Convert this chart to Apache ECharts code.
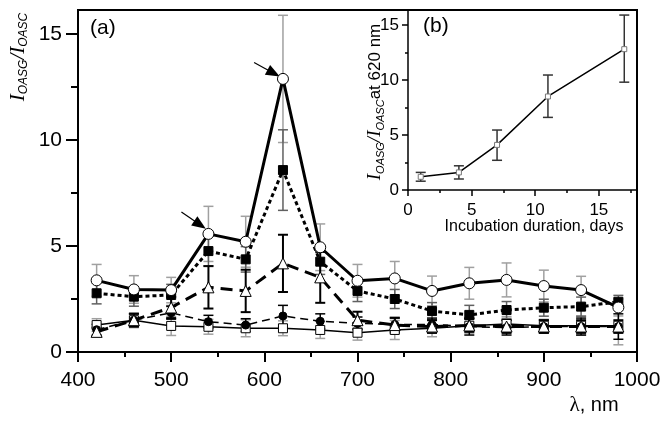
<!DOCTYPE html>
<html><head><meta charset="utf-8">
<script src="https://cdn.jsdelivr.net/npm/echarts@6/dist/echarts.min.js"></script>
<style>html,body{margin:0;padding:0;background:#fff}#c{width:671px;height:423px}</style>
</head><body><div id="c"></div><script>
// ---------- main panel (a) ----------
const wavelengths = [420, 460, 500, 540, 580, 620, 660, 700, 740, 780, 820, 860, 900, 940, 980];
const openCircles   = [3.38, 2.95, 2.92, 5.57, 5.2, 12.88, 4.94, 3.36, 3.47, 2.88, 3.24, 3.40, 3.11, 2.92, 2.1];
const openCirclesErr = [0.75, 0.65, 0.6, 1.3, 1.2, 3.0, 1.1, 0.77, 0.8, 0.7, 0.75, 0.8, 0.75, 0.65, 0.4];
const filledSquares = [2.77, 2.61, 2.69, 4.76, 4.37, 8.58, 4.26, 2.88, 2.5, 1.93, 1.75, 1.98, 2.09, 2.14, 2.37];
const filledSquaresErr = [0.5, 0.45, 0.5, 0.7, 0.6, 1.9, 0.6, 0.5, 0.45, 0.4, 0.45, 0.4, 0.4, 0.45, 0.3];
const openTriangles = [0.95, 1.5, 2.1, 3.05, 2.88, 4.18, 3.52, 1.5, 1.27, 1.2, 1.25, 1.2, 1.2, 1.2, 1.2];
const openTrianglesErr = [0.2, 0.3, 0.5, 1.0, 1.0, 1.35, 1.2, 0.4, 0.35, 0.3, 0.3, 0.3, 0.3, 0.3, 0.3];
const filledCircles = [1.05, 1.5, 1.85, 1.43, 1.27, 1.7, 1.45, 1.35, 1.3, 1.3, 1.2, 1.15, 1.2, 1.2, 1.2];
const filledCirclesErr = [0.25, 0.3, 0.3, 0.3, 0.3, 0.5, 0.35, 0.3, 0.3, 0.3, 0.4, 0.35, 0.3, 0.4, 0.6];
const openSquares   = [1.27, 1.5, 1.23, 1.19, 1.12, 1.12, 1.04, 0.91, 1.04, 1.12, 1.24, 1.32, 1.24, 1.24, 1.24];
const openSquaresErr = [0.3, 0.35, 0.45, 0.35, 0.4, 0.35, 0.4, 0.35, 0.45, 0.4, 0.35, 0.35, 0.3, 0.45, 0.9];
const mainYMajor = [0, 5, 10, 15];
const mainYMinor = [2.5, 7.5, 12.5];
// arrow annotations: [tail, head] in data units
const arrows = [[[589, 13.65], [610, 13.15]], [[511, 6.6], [531, 6.0]]];

// ---------- inset panel (b) ----------
const days = [1, 4, 7, 11, 17];
const ratio620 = [1.2, 1.6, 4.1, 8.5, 12.8];
const ratio620Low = [0.8, 1.0, 2.7, 6.6, 9.8];
const ratio620High = [1.6, 2.2, 5.45, 10.45, 15.9];
const insetXMajor = [0, 5, 10, 15];
const insetXMinor = [2.5, 7.5, 12.5, 17.5];
const insetYMajor = [0, 5, 10, 15];
const insetYMinor = [2.5, 7.5, 12.5];

const SANS = 'Liberation Sans, Arial, sans-serif';
const SERIF = 'Liberation Serif, Times New Roman, serif';

function errSeries(xs, lo, hi, color, width, xi, yi, z) {
  const data = xs.map((x, i) => [x, lo[i], hi[i]]);
  return {
    type: 'custom', xAxisIndex: xi, yAxisIndex: yi, z: z, silent: true, clip: false,
    data: data, encode: { x: 0, y: [1, 2] },
    renderItem: function (params, api) {
      const x = api.value(0);
      const a = api.coord([x, api.value(1)]);
      const b = api.coord([x, api.value(2)]);
      const hw = 5;
      const st = { stroke: color, lineWidth: width };
      return { type: 'group', children: [
        { type: 'line', shape: { x1: a[0], y1: a[1], x2: b[0], y2: b[1] }, style: st },
        { type: 'line', shape: { x1: b[0] - hw, y1: b[1], x2: b[0] + hw, y2: b[1] }, style: st },
        { type: 'line', shape: { x1: a[0] - hw, y1: a[1], x2: a[0] + hw, y2: a[1] }, style: st }
      ]};
    }
  };
}
function symErr(xs, v, e, color, width, z) {
  return errSeries(xs, v.map((y, i) => y - e[i]), v.map((y, i) => y + e[i]), color, width, 0, 0, z);
}
function pairs(xs, ys) { return xs.map((x, i) => [x, ys[i]]); }
const plain = v => String(v);

const chart = echarts.init(document.getElementById('c'), null, { renderer: 'canvas' });

const axisBlack = { color: '#000', width: 2 };
const option = {
  animation: false,
  backgroundColor: '#fff',
  grid: [
    { left: 78, top: 10, right: 34, bottom: 71, show: true, borderColor: '#000', borderWidth: 2, backgroundColor: 'transparent' },
    { left: 408, top: 10, right: 34, bottom: 233 }
  ],
  xAxis: [
    { type: 'value', gridIndex: 0, min: 400, max: 1000, interval: 100,
      axisLine: { lineStyle: axisBlack }, axisTick: { inside: false, length: 10, lineStyle: axisBlack },
      minorTick: { show: true, splitNumber: 2, length: 5, lineStyle: axisBlack },
      axisLabel: { fontSize: 21, color: '#000', fontFamily: SANS, margin: 18, formatter: plain }, splitLine: { show: false } },
    { type: 'value', gridIndex: 1, min: 0, max: 18,
      axisLine: { lineStyle: { color: '#000', width: 1.5 } },
      axisTick: { customValues: insetXMajor, length: 6, lineStyle: { color: '#000', width: 1.5 } },
      axisLabel: { customValues: insetXMajor, fontSize: 17, color: '#000', fontFamily: SANS, margin: 12, formatter: plain }, splitLine: { show: false } },
    { type: 'value', gridIndex: 1, min: 0, max: 18, position: 'bottom',
      axisLine: { show: false },
      axisTick: { customValues: insetXMinor, length: 3, lineStyle: { color: '#000', width: 1.5 } },
      axisLabel: { show: false }, splitLine: { show: false } }
  ],
  yAxis: [
    { type: 'value', gridIndex: 0, min: 0, max: 16.13,
      axisLine: { show: true, lineStyle: axisBlack },
      axisTick: { show: true, customValues: mainYMajor, length: 12, lineStyle: axisBlack },
      axisLabel: { customValues: mainYMajor, fontSize: 21, color: '#000', fontFamily: SANS, margin: 16, formatter: plain }, splitLine: { show: false } },
    { type: 'value', gridIndex: 0, min: 0, max: 16.13, position: 'left',
      axisLine: { show: false },
      axisTick: { show: true, customValues: mainYMinor, length: 7, lineStyle: axisBlack },
      axisLabel: { show: false }, splitLine: { show: false } },
    { type: 'value', gridIndex: 1, min: 0, max: 16.36,
      axisLine: { show: true, lineStyle: { color: '#000', width: 1.5 } },
      axisTick: { show: true, customValues: insetYMajor, length: 6, lineStyle: { color: '#000', width: 1.5 } },
      axisLabel: { customValues: insetYMajor, fontSize: 17, color: '#000', fontFamily: SANS, margin: 9, formatter: plain }, splitLine: { show: false } },
    { type: 'value', gridIndex: 1, min: 0, max: 16.36, position: 'left',
      axisLine: { show: false },
      axisTick: { show: true, customValues: insetYMinor, length: 3, lineStyle: { color: '#000', width: 1.5 } },
      axisLabel: { show: false }, splitLine: { show: false } }
  ],
  series: [
    symErr(wavelengths, openCircles, openCirclesErr, '#a0a0a0', 1.5, 2),
    symErr(wavelengths, openSquares, openSquaresErr, '#a0a0a0', 1.5, 2),
    symErr(wavelengths, filledSquares, filledSquaresErr, '#606060', 1.5, 2),
    symErr(wavelengths, filledCircles, filledCirclesErr, '#000', 1.5, 2),
    symErr(wavelengths, openTriangles, openTrianglesErr, '#000', 2, 2),
    { type: 'line', xAxisIndex: 0, yAxisIndex: 0, z: 3, data: pairs(wavelengths, openSquares),
      symbol: 'rect', symbolSize: 9, itemStyle: { color: '#fff', borderColor: '#000', borderWidth: 1 },
      lineStyle: { color: '#000', width: 1.5 } },
    { type: 'line', xAxisIndex: 0, yAxisIndex: 0, z: 3, data: pairs(wavelengths, filledCircles),
      symbol: 'circle', symbolSize: 8, itemStyle: { color: '#000', borderColor: '#000', borderWidth: 1 },
      lineStyle: { color: '#000', width: 1.5, type: [8, 5] } },
    { type: 'line', xAxisIndex: 0, yAxisIndex: 0, z: 4, data: pairs(wavelengths, openTriangles),
      symbol: 'triangle', symbolSize: 11, itemStyle: { color: '#fff', borderColor: '#000', borderWidth: 1 },
      lineStyle: { color: '#000', width: 3, type: [12, 7] } },
    { type: 'line', xAxisIndex: 0, yAxisIndex: 0, z: 5, data: pairs(wavelengths, filledSquares),
      symbol: 'rect', symbolSize: 9, itemStyle: { color: '#000', borderColor: '#000', borderWidth: 1 },
      lineStyle: { color: '#000', width: 3, type: [4, 3] } },
    { type: 'line', xAxisIndex: 0, yAxisIndex: 0, z: 6, data: pairs(wavelengths, openCircles),
      symbol: 'circle', symbolSize: 11, itemStyle: { color: '#fff', borderColor: '#000', borderWidth: 1 },
      lineStyle: { color: '#000', width: 3 },
      markLine: { silent: true, symbol: ['none', 'triangle'], symbolSize: [11, 14], animation: false,
        label: { show: false }, lineStyle: { color: '#000', width: 1.2, type: 'solid' },
        data: arrows.map(a => [{ coord: a[0] }, { coord: a[1] }]) } },
    errSeries(days, ratio620Low, ratio620High, '#333', 1.5, 1, 2, 2),
    { type: 'line', xAxisIndex: 1, yAxisIndex: 2, z: 3, data: pairs(days, ratio620),
      symbol: 'rect', symbolSize: 5, itemStyle: { color: '#fff', borderColor: '#777', borderWidth: 1 },
      lineStyle: { color: '#000', width: 1.5 } }
  ],
  graphic: [
    { type: 'text', left: 90, top: 18, style: { text: '(a)', font: '21px ' + SANS, fill: '#000' } },
    { type: 'text', left: 423, top: 16, style: { text: '(b)', font: '21px ' + SANS, fill: '#000' } },
    { type: 'text', x: 18, y: 57, rotation: Math.PI / 2, style: {
        text: '{I|I}{s|OASG}{I|/I}{s|OASC}', align: 'center', verticalAlign: 'middle', fill: '#000',
        rich: { I: { fontFamily: SERIF, fontStyle: 'italic', fontSize: 21, lineHeight: 24, fill: '#000' },
                s: { fontFamily: SANS, fontStyle: 'italic', fontSize: 12, lineHeight: 12, verticalAlign: 'bottom', fill: '#000' } } } },
    { type: 'text', x: 375, y: 102, rotation: Math.PI / 2, style: {
        text: '{I|I}{s|OASG}{I|/I}{s|OASC}{t|at 620 nm}', align: 'center', verticalAlign: 'middle', fill: '#000',
        rich: { I: { fontFamily: SERIF, fontStyle: 'italic', fontSize: 19, lineHeight: 22, fill: '#000' },
                s: { fontFamily: SANS, fontStyle: 'italic', fontSize: 11, lineHeight: 11, verticalAlign: 'bottom', fill: '#000' },
                t: { fontFamily: SANS, fontSize: 17, lineHeight: 22, fill: '#000' } } } },
    { type: 'text', x: 534, y: 227, style: { text: 'Incubation duration, days', font: '16px ' + SANS, fill: '#000', align: 'center', verticalAlign: 'middle' } },
    { type: 'text', x: 594, y: 405, style: {
        text: '{l|λ}{t|, nm}', align: 'center', verticalAlign: 'middle', fill: '#000',
        rich: { l: { fontFamily: SERIF, fontSize: 21, fill: '#000' }, t: { fontFamily: SANS, fontSize: 20, fill: '#000' } } } }
  ]
};
chart.setOption(option);
</script></body></html>
